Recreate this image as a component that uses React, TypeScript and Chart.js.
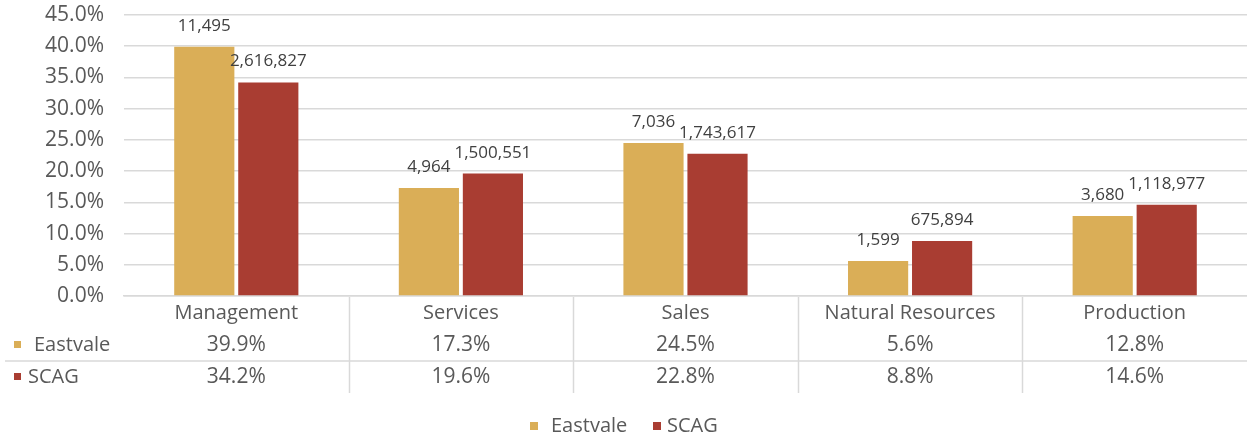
import React, { useEffect, useRef } from "react";
import { Chart, registerables } from "chart.js";

Chart.register(...registerables);

const categories = ["Management", "Services", "Sales", "Natural Resources", "Production"];
const seriesNames = ["Eastvale", "SCAG"];
const eastvalePct = [39.9, 17.3, 24.5, 5.6, 12.8];
const scagPct = [34.2, 19.6, 22.8, 8.8, 14.6];
const eastvaleCount = [11495, 4964, 7036, 1599, 3680];
const scagCount = [2616827, 1500551, 1743617, 675894, 1118977];

const GOLD = "#DAAE57";
const RED = "#A93D32";
const TEXT = "#595959";
const LABEL = "#404040";
const GRID = "#D9D9D9";
const FONT = "'Open Sans', 'Liberation Sans', sans-serif";

const tablePlugin = {
  id: "tablePlugin",
  afterDatasetsDraw(chart: any) {
    const ctx = chart.ctx;
    const counts = [eastvaleCount, scagCount];
    ctx.save();
    ctx.font = `17px ${FONT}`;
    ctx.fillStyle = LABEL;
    ctx.textAlign = "center";
    ctx.textBaseline = "alphabetic";
    chart.data.datasets.forEach((ds: any, di: number) => {
      const meta = chart.getDatasetMeta(di);
      meta.data.forEach((bar: any, i: number) => {
        ctx.fillText(counts[di][i].toLocaleString("en-US"), bar.x, bar.y - 16);
      });
    });
    ctx.restore();
  },
  afterDraw(chart: any) {
    const ctx = chart.ctx;
    const xs = chart.scales.x;
    const area = chart.chartArea;
    const bottom = area.bottom;
    const n = categories.length;
    const catW = (area.right - area.left) / n;
    ctx.save();
    ctx.strokeStyle = GRID;
    ctx.lineWidth = 1.5;
    ctx.beginPath();
    ctx.moveTo(5, bottom + 65);
    ctx.lineTo(area.right, bottom + 65);
    for (let i = 1; i < n; i++) {
      const x = Math.round(area.left + catW * i) + 0.5;
      ctx.moveTo(x, bottom + 1);
      ctx.lineTo(x, bottom + 97);
    }
    ctx.stroke();

    ctx.fillStyle = TEXT;
    ctx.textAlign = "center";
    ctx.textBaseline = "middle";
    categories.forEach((c, i) => {
      const x = xs.getPixelForValue(i);
      ctx.font = `20px ${FONT}`;
      ctx.fillText(c, x, bottom + 17);
      ctx.font = `21px ${FONT}`;
      ctx.fillText(eastvalePct[i].toFixed(1) + "%", x, bottom + 49);
      ctx.fillText(scagPct[i].toFixed(1) + "%", x, bottom + 81);
    });

    ctx.font = `20px ${FONT}`;
    ctx.textAlign = "left";
    ctx.fillStyle = GOLD;
    ctx.fillRect(14, bottom + 45, 7, 7);
    ctx.fillStyle = RED;
    ctx.fillRect(14, bottom + 77, 7, 7);
    ctx.fillStyle = TEXT;
    ctx.fillText(seriesNames[0], 34, bottom + 49);
    ctx.fillText(seriesNames[1], 28, bottom + 81);

    const ly = 426;
    ctx.fillStyle = GOLD;
    ctx.fillRect(530, ly - 4, 8, 8);
    ctx.fillStyle = RED;
    ctx.fillRect(653, ly - 4, 8, 8);
    ctx.fillStyle = TEXT;
    ctx.fillText(seriesNames[0], 551, ly);
    ctx.fillText(seriesNames[1], 667, ly);
    ctx.restore();
  },
};

export default function App() {
  const ref = useRef<HTMLCanvasElement | null>(null);
  useEffect(() => {
    if (!ref.current) return;
    const chart = new Chart(ref.current, {
      type: "bar",
      data: {
        labels: categories,
        datasets: [
          { label: seriesNames[0], data: eastvalePct, backgroundColor: GOLD, categoryPercentage: 0.57, barPercentage: 0.94 },
          { label: seriesNames[1], data: scagPct, backgroundColor: RED, categoryPercentage: 0.57, barPercentage: 0.94 },
        ],
      },
      options: {
        responsive: false,
        animation: false,
        devicePixelRatio: 1,
        layout: { padding: { top: 0, left: 0, right: 0, bottom: 0 } },
        plugins: { legend: { display: false }, tooltip: { enabled: false } },
        scales: {
          x: {
            grid: { display: false, drawTicks: false },
            border: { display: true, color: GRID, width: 1.5 },
            ticks: { display: false },
            afterFit: (s: any) => { s.height = 141; },
          },
          y: {
            min: 0,
            max: 45,
            grid: { color: GRID, lineWidth: 1.5, drawTicks: false },
            border: { display: false },
            ticks: {
              stepSize: 5,
              padding: 20,
              color: TEXT,
              font: { family: FONT, size: 21 },
              callback: (v: any) => Number(v).toFixed(1) + "%",
            },
            afterFit: (s: any) => {
              s.width = 124;
              s.paddingTop = 15;
              s.paddingBottom = 0;
            },
          },
        },
      },
      plugins: [tablePlugin],
    });
    return () => chart.destroy();
  }, []);
  return (
    <div style={{ position: "absolute", left: 0, top: 0, width: 1247, height: 437, background: "#fff" }}>
      <canvas ref={ref} width={1247} height={437} />
    </div>
  );
}
